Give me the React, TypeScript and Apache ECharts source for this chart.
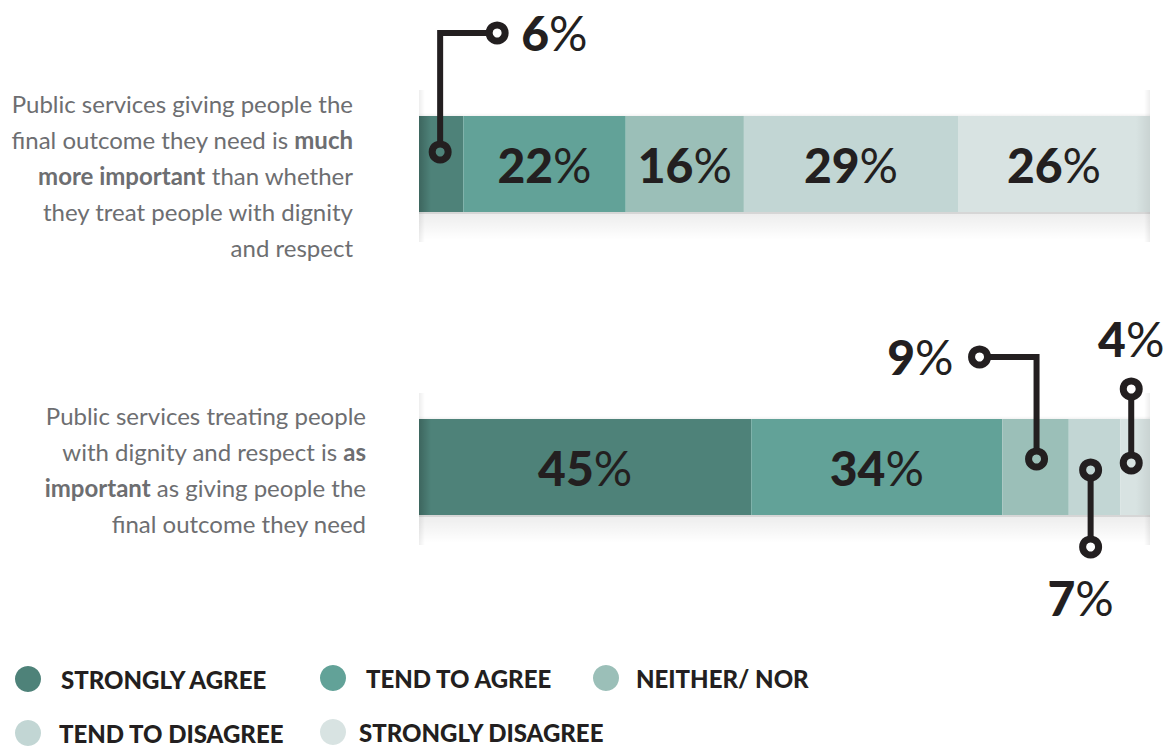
import React, { useEffect, useRef } from "react";
import * as echarts from "echarts";

// ---------- data ----------
const categories = ["Outcome much more important", "Dignity as important"];
const seriesNames = ["STRONGLY AGREE", "TEND TO AGREE", "NEITHER/ NOR", "TEND TO DISAGREE", "STRONGLY DISAGREE"];
const stronglyAgree = [6, 45];
const tendToAgree = [22, 34];
const neitherNor = [16, 9];
const tendToDisagree = [29, 7];
const stronglyDisagree = [26, 4];
const seriesValues = [stronglyAgree, tendToAgree, neitherNor, tendToDisagree, stronglyDisagree];
const axisMax = 99;

const q1Lines = [
  "Public services giving people the",
  "final outcome they need is {b|much}",
  "{b|more important} than whether",
  "they treat people with dignity",
  "and respect",
];
const q2Lines = [
  "Public services treating people",
  "with dignity and respect is {b|as}",
  "{b|important} as giving people the",
  "final outcome they need",
];

// ---------- styles ----------
const colors = ["#4e8279", "#62a298", "#9bbfb8", "#c2d6d4", "#d8e3e2"];
const INK = "#231f20";
const FONT = "Lato, 'Open Sans', sans-serif";
const NUM_SIZE = 48;
const Q_SIZE = 24;

const numRich = {
  n: { fontFamily: FONT, fontWeight: 900, fontSize: NUM_SIZE, color: INK, fill: INK },
  p: { fontFamily: FONT, fontWeight: 400, fontSize: NUM_SIZE, color: INK, fill: INK },
};

// callout geometry (pixel offsets from segment centre)
const callouts = [
  { s: 0, r: 0, type: "elbow", dot: [-1, -12], cornerDy: -131, endDx: 56, label: [80, -132], align: "left" },
  { s: 2, r: 1, type: "elbow", dot: [1, -8], cornerDy: -110, endDx: -56, label: [-82, -111], align: "right" },
  { s: 3, r: 1, type: "vertical", dot: [-4, 3], endDy: 80, label: [-14, 130], align: "center" },
  { s: 4, r: 1, type: "vertical", dot: [-4, -4], endDy: -78, label: [-4, -129], align: "center" },
];

const legendPos = [
  [15, 666],
  [320, 665],
  [593, 665],
  [15, 720],
  [320, 719],
];
const legendTextGap = [15, 15, 12, 13, 8];

export default function App() {
  const ref = useRef<HTMLDivElement>(null);

  useEffect(() => {
    if (!ref.current) return;
    const chart = echarts.init(ref.current, undefined, { renderer: "svg" });

    const series = seriesNames.map((name, i) => ({
      name,
      type: "bar",
      stack: "total",
      barWidth: 96,
      itemStyle: { color: colors[i] },
      data: seriesValues[i].map((v) => ({
        value: v,
        label: {
          show: v >= 10,
          position: "inside",
          formatter: () => `{n|${v}}{p|%}`,
          rich: numRich,
        },
      })),
      emphasis: { disabled: true },
    }));

    const legends = seriesNames.map((name, i) => ({
      data: [name],
      left: legendPos[i][0],
      top: legendPos[i][1],
      padding: 0,
      icon: "circle",
      itemWidth: 26,
      itemHeight: 26,
      selectedMode: false,
      textStyle: {
        fontFamily: FONT,
        fontWeight: 900,
        fontSize: 24,
        color: INK,
        padding: [0, 0, 0, legendTextGap[i]],
      },
    }));

    chart.setOption({
      animation: false,
      grid: { left: 419, right: 17, top: 12.5, height: 606, containLabel: false },
      xAxis: { type: "value", min: 0, max: axisMax, show: false },
      yAxis: { type: "category", data: categories, inverse: true, show: false },
      legend: legends,
      series,
    });

    const px = (v: number) => chart.convertToPixel({ xAxisIndex: 0 }, v) as number;
    const py = (i: number) => chart.convertToPixel({ yAxisIndex: 0 }, i) as number;
    const x0 = px(0);
    const x1 = px(axisMax);
    const half = 48;

    const graphics: any[] = [];

    // ribbon shading
    categories.forEach((_, r) => {
      const cy = py(r);
      const top = cy - half;
      const bot = cy + half;
      graphics.push({
        type: "rect", z: 10, silent: true,
        shape: { x: x0, y: top, width: 12, height: half * 2 },
        style: { fill: new echarts.graphic.LinearGradient(0, 0, 1, 0, [
          { offset: 0, color: "rgba(0,0,0,0.22)" }, { offset: 1, color: "rgba(0,0,0,0)" }]) },
      });
      graphics.push({
        type: "rect", z: 10, silent: true,
        shape: { x: x1 - 14, y: top, width: 14, height: half * 2 },
        style: { fill: new echarts.graphic.LinearGradient(0, 0, 1, 0, [
          { offset: 0, color: "rgba(0,0,0,0)" }, { offset: 1, color: "rgba(0,0,0,0.07)" }]) },
      });
      graphics.push({
        type: "rect", z: 10, silent: true,
        shape: { x: x0, y: bot, width: x1 - x0, height: 2 },
        style: { fill: "rgba(0,0,0,0.16)" },
      });
      graphics.push({
        type: "rect", z: 1, silent: true,
        shape: { x: x0, y: bot + 2, width: x1 - x0, height: 26 },
        style: { fill: new echarts.graphic.LinearGradient(0, 0, 0, 1, [
          { offset: 0, color: "rgba(0,0,0,0.07)" }, { offset: 1, color: "rgba(0,0,0,0)" }]) },
      });
      graphics.push({
        type: "rect", z: 1, silent: true,
        shape: { x: x0, y: top - 3, width: x1 - x0, height: 3 },
        style: { fill: new echarts.graphic.LinearGradient(0, 1, 0, 0, [
          { offset: 0, color: "rgba(0,0,0,0.05)" }, { offset: 1, color: "rgba(0,0,0,0)" }]) },
      });
      [[x0, 1], [x1 - 6, -1]].forEach(([sx, dir]) => {
        [[top - 26, 26], [bot, 30]].forEach(([sy, h]) => {
          graphics.push({
            type: "rect", z: 1, silent: true,
            shape: { x: sx, y: sy, width: 6, height: h },
            style: { fill: new echarts.graphic.LinearGradient(dir > 0 ? 0 : 1, 0, dir > 0 ? 1 : 0, 0, [
              { offset: 0, color: "rgba(0,0,0,0.07)" }, { offset: 1, color: "rgba(0,0,0,0)" }]) },
          });
        });
      });
    });

    // question texts
    const qBlocks = [
      { lines: q1Lines, right: 353, dy: 11 },
      { lines: q2Lines, right: 366, dy: 2 },
    ];
    qBlocks.forEach((b, r) => {
      const cy = py(r) + b.dy;
      const lh = 36;
      const start = cy - ((b.lines.length - 1) * lh) / 2;
      b.lines.forEach((line, k) => {
        graphics.push({
          type: "text", z: 10,
          style: {
            text: line,
            x: b.right,
            y: start + k * lh,
            align: "right",
            verticalAlign: "middle",
            fill: "#6d6e71",
            fontFamily: FONT,
            fontSize: Q_SIZE,
            rich: {
              b: { fontFamily: FONT, fontSize: Q_SIZE, fontWeight: 700, fill: "#6d6e71" },
            },
          },
        });
      });
    });

    // callouts
    const R = 8;
    callouts.forEach((c) => {
      const row = c.r;
      let before = 0;
      for (let s = 0; s < c.s; s++) before += seriesValues[s][row];
      const v = seriesValues[c.s][row];
      const cx = px(before + v / 2);
      const cy = py(row);
      const dx = cx + c.dot[0];
      const dy = cy + c.dot[1];
      const lineStyle = { stroke: INK, lineWidth: 6, fill: null, lineJoin: "miter", lineCap: "butt" };
      const circ = (x: number, y: number) => ({
        type: "circle", z: 30, shape: { cx: x, cy: y, r: R },
        style: { fill: null, stroke: INK, lineWidth: 7 },
      });
      if (c.type === "elbow") {
        const cornerY = cy + (c.cornerDy as number);
        const endX = cx + (c.endDx as number);
        const dir = endX > dx ? 1 : -1;
        graphics.push({
          type: "polyline", z: 29,
          shape: { points: [[dx, dy - R], [dx, cornerY], [endX - dir * R, cornerY]] },
          style: lineStyle,
        });
        graphics.push(circ(dx, dy));
        graphics.push(circ(endX, cornerY));
      } else {
        const endY = cy + (c.endDy as number);
        const dir = endY > dy ? 1 : -1;
        graphics.push({
          type: "polyline", z: 29,
          shape: { points: [[dx, dy + dir * R], [dx, endY - dir * R]] },
          style: lineStyle,
        });
        graphics.push(circ(dx, dy));
        graphics.push(circ(dx, endY));
      }
      graphics.push({
        type: "text", z: 30,
        style: {
          text: `{n|${v}}{p|%}`,
          x: cx + c.label[0],
          y: cy + c.label[1],
          align: c.align,
          verticalAlign: "middle",
          fill: INK,
          fontFamily: FONT,
          fontSize: NUM_SIZE,
          rich: numRich,
        },
      });
    });

    chart.setOption({ graphic: graphics });

    return () => chart.dispose();
  }, []);

  return (
    <div
      ref={ref}
      style={{ position: "absolute", left: 0, top: 0, width: 1167, height: 746, background: "#ffffff" }}
    />
  );
}
